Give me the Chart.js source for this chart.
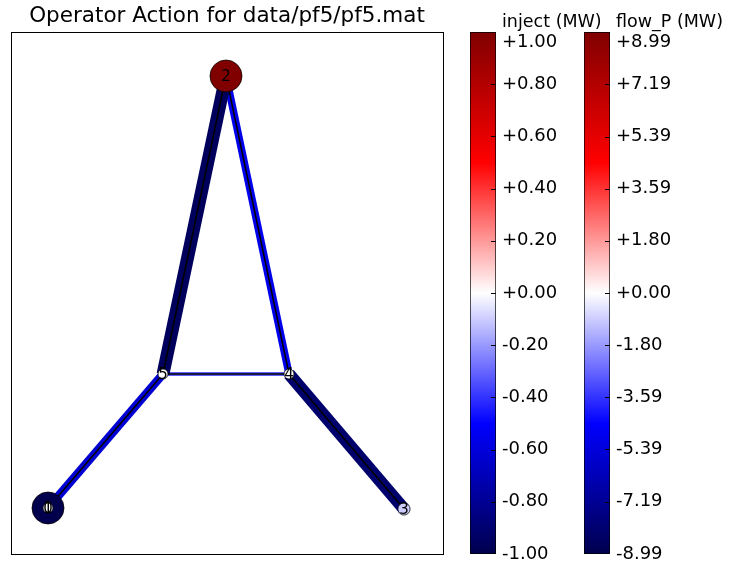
<!DOCTYPE html>
<html>
<head>
<meta charset="utf-8">
<script src="https://cdn.jsdelivr.net/npm/chart.js@4.4.0/dist/chart.umd.min.js"></script>
<style>
body { margin: 0; background: #fff; }
#wrap { position: relative; width: 735px; height: 565px; overflow: hidden; }
canvas { position: absolute; top: 0; }
</style>
</head>
<body>
<div id="wrap">
  <canvas id="net" width="455" height="565" style="left:0px"></canvas>
  <canvas id="cbInject" width="150" height="565" style="left:460px"></canvas>
  <canvas id="cbFlow" width="161" height="565" style="left:574px"></canvas>
</div>
<script>
// nos da rede (posicoes)
const nodeIds = ['0', '1', '2', '3', '4', '5'];
const nodeX = [0.37, 0.37, 2.15, 3.93, 2.78, 1.52];
const nodeY = [0.46, 0.46, 4.78, 0.45, 1.80, 1.80];
const nodeInject = [-1.00, 0.00, 1.00, -0.10, 0.00, 0.00];

// linhas
const edgeFrom = [2, 2, 5, 5, 4];
const edgeTo = [5, 4, 4, 0, 3];
const edgeFlow = [-8.6, -5.0, -2.8, -5.6, -8.2];

// escalas das barras de cor
const injectMax = 1.00;
const injectTicks = [1.00, 0.80, 0.60, 0.40, 0.20, 0.00, -0.20, -0.40, -0.60, -0.80, -1.00];
const flowMax = 8.99;
const flowTicks = [8.99, 7.19, 5.39, 3.59, 1.80, 0.00, -1.80, -3.59, -5.39, -7.19, -8.99];

const FONT = 'DejaVu Sans';

// colormap "seismic" do matplotlib
const seismicStops = [
    [0.00, [0, 0, 77]],
    [0.25, [0, 0, 255]],
    [0.50, [255, 255, 255]],
    [0.75, [255, 0, 0]],
    [1.00, [128, 0, 0]]
];

function seismic(v, vmax) {
    let t = (v / vmax + 1) / 2;
    t = Math.max(0, Math.min(1, t));
    for (let i = 1; i < seismicStops.length; i++) {
        const [t1, c1] = seismicStops[i];
        const [t0, c0] = seismicStops[i - 1];
        if (t <= t1) {
            const f = (t - t0) / (t1 - t0);
            const c = c0.map((a, k) => Math.round(a + (c1[k] - a) * f));
            return 'rgb(' + c.join(',') + ')';
        }
    }
    return 'rgb(128,0,0)';
}

function fmt(v) {
    return (v >= 0 ? '+' : '') + v.toFixed(2);
}

// datasets das linhas: faixa colorida + traço preto no meio
const edgeSets = [];
edgeFrom.forEach((f, i) => {
    const t = edgeTo[i];
    const pts = [{ x: nodeX[f], y: nodeY[f] }, { x: nodeX[t], y: nodeY[t] }];
    edgeSets.push({
        data: pts,
        showLine: true,
        borderColor: seismic(edgeFlow[i], flowMax),
        borderWidth: 1.5 * Math.abs(edgeFlow[i]),
        borderCapStyle: 'butt',
        pointRadius: 0,
        order: 2
    });
    edgeSets.push({
        data: pts,
        showLine: true,
        borderColor: '#000',
        borderWidth: 1.5,
        borderCapStyle: 'butt',
        pointRadius: 0,
        order: 1
    });
});

const nodeSet = {
    data: nodeX.map((x, i) => ({ x: x, y: nodeY[i] })),
    pointRadius: nodeInject.map(v => 5 + 11 * Math.abs(v)),
    pointHoverRadius: nodeInject.map(v => 5 + 11 * Math.abs(v)),
    pointBackgroundColor: nodeInject.map(v => seismic(v, injectMax)),
    pointBorderColor: 'rgba(0,0,0,0.75)',
    pointBorderWidth: 1,
    order: 0
};

const nodeLabels = {
    id: 'nodeLabels',
    afterDatasetsDraw(chart) {
        const meta = chart.getDatasetMeta(chart.data.datasets.length - 1);
        const ctx = chart.ctx;
        ctx.save();
        ctx.font = '15px ' + FONT;
        ctx.fillStyle = '#000';
        ctx.textAlign = 'center';
        ctx.textBaseline = 'middle';
        meta.data.forEach((el, i) => ctx.fillText(nodeIds[i], el.x, el.y + 1));
        ctx.restore();
    }
};

const frame = {
    id: 'frame',
    afterDraw(chart) {
        const a = chart.chartArea;
        const ctx = chart.ctx;
        ctx.save();
        ctx.strokeStyle = '#000';
        ctx.lineWidth = 1;
        ctx.strokeRect(Math.round(a.left) + 0.5, Math.round(a.top) + 0.5,
            Math.round(a.right - a.left), Math.round(a.bottom - a.top));
        ctx.restore();
    }
};

new Chart(document.getElementById('net'), {
    type: 'scatter',
    data: { datasets: edgeSets.concat([nodeSet]) },
    options: {
        responsive: false,
        animation: false,
        layout: { autoPadding: false, padding: { left: 11, right: 12, top: 0, bottom: 11 } },
        plugins: {
            legend: { display: false },
            tooltip: { enabled: false },
            title: {
                display: true,
                text: 'Operator Action for data/pf5/pf5.mat',
                color: '#000',
                font: { family: FONT, size: 21.5, weight: 'normal' },
                padding: { top: 4, bottom: 2.2 }
            }
        },
        scales: {
            x: { type: 'linear', display: false, min: 0, max: 4.32 },
            y: { type: 'linear', display: false, min: 0, max: 5.22 }
        }
    },
    plugins: [nodeLabels, frame]
});

// barra de cor (floating bar com gradiente)
function plotarBarra(id, vmax, ticks, titulo, axisWidth) {
    const extras = {
        id: 'cbExtras',
        afterDraw(chart) {
            const a = chart.chartArea;
            const scale = chart.scales.y;
            const ctx = chart.ctx;
            ctx.save();
            ctx.strokeStyle = '#000';
            ctx.lineWidth = 1;
            ticks.forEach((v, i) => {
                if (i === 0 || i === ticks.length - 1) return;
                const y = Math.round(scale.getPixelForValue(v)) + 0.5;
                ctx.beginPath();
                ctx.moveTo(a.right - 5, y);
                ctx.lineTo(a.right, y);
                ctx.stroke();
            });
            ctx.font = '17.5px ' + FONT;
            ctx.fillStyle = '#000';
            ctx.textAlign = 'left';
            ctx.textBaseline = 'alphabetic';
            ctx.fillText(titulo, a.right + 6, a.top - 5);
            ctx.restore();
        }
    };
    new Chart(document.getElementById(id), {
        type: 'bar',
        data: {
            labels: [''],
            datasets: [{
                data: [[-vmax, vmax]],
                backgroundColor: (c) => {
                    const a = c.chart.chartArea;
                    if (!a) return null;
                    const g = c.chart.ctx.createLinearGradient(0, a.bottom, 0, a.top);
                    seismicStops.forEach(([t, col]) => g.addColorStop(t, 'rgb(' + col.join(',') + ')'));
                    return g;
                },
                borderColor: '#000',
                borderWidth: 1,
                borderSkipped: false,
                barPercentage: 1,
                categoryPercentage: 1
            }]
        },
        options: {
            responsive: false,
            animation: false,
            layout: { autoPadding: false, padding: { left: 10, right: 0, top: 32, bottom: 11 } },
            plugins: { legend: { display: false }, tooltip: { enabled: false } },
            scales: {
                x: { display: false },
                y: {
                    position: 'right',
                    min: -vmax,
                    max: vmax,
                    grid: { display: false, drawTicks: false },
                    border: { display: false },
                    afterBuildTicks: (s) => { s.ticks = ticks.map(v => ({ value: v })); },
                    afterFit: (s) => {
                        s.width = axisWidth;
                        s.paddingTop = 0;
                        s.paddingBottom = 0;
                    },
                    ticks: {
                        autoSkip: false,
                        padding: 6,
                        color: '#000',
                        font: { family: FONT, size: 18 },
                        // rotulo do topo fica logo abaixo da borda, como no original
                        callback: (v, i) => (i === 0 ? ['', fmt(v)] : fmt(v))
                    }
                }
            }
        },
        plugins: [extras]
    });
}

plotarBarra('cbInject', injectMax, injectTicks, 'inject (MW)', 114);
plotarBarra('cbFlow', flowMax, flowTicks, 'flow_P (MW)', 125);
</script>
</body>
</html>
